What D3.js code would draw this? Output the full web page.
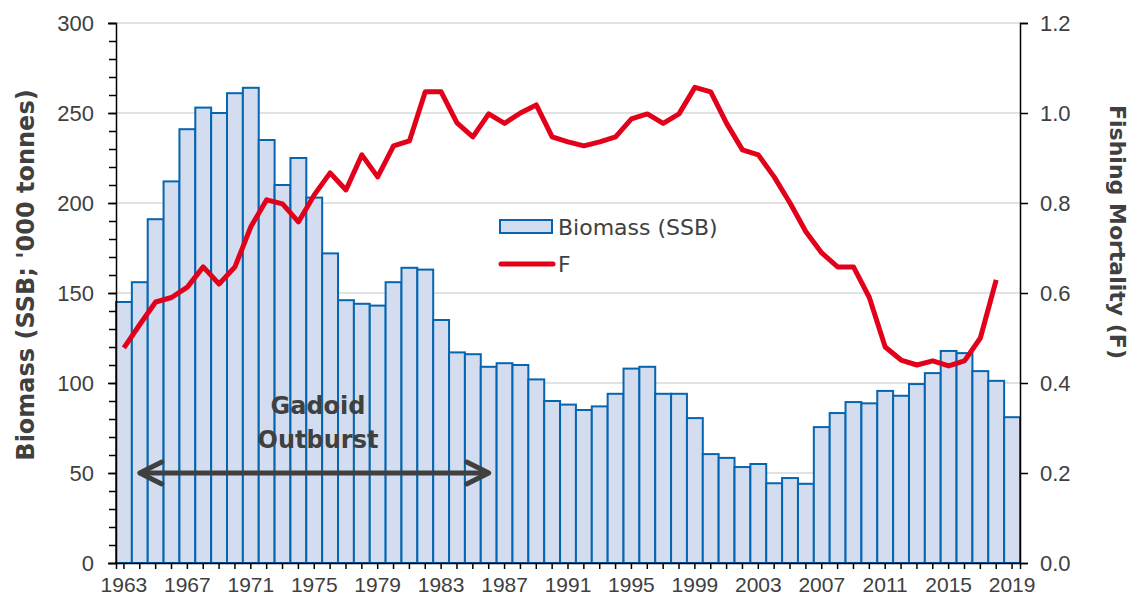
<!DOCTYPE html>
<html>
<head>
<meta charset="utf-8">
<script src="https://cdn.jsdelivr.net/npm/d3@7"></script>
<style>
  body { margin: 0; background: #fff; }
  svg { display: block; font-family: "DejaVu Sans", sans-serif; }
  .axis text { fill: #404040; font-size: 22px; }
  .axis.x text { font-size: 21px; }
  .axis path, .axis line { stroke: #000; stroke-width: 1.5; }
  .grid line { stroke: #d9d9d9; stroke-width: 1.5; }
  .title { fill: #404040; font-weight: bold; font-size: 20px; }
</style>
</head>
<body>
<script>
'use strict';

var width = 1135;
var height = 600;

// years shown on the category axis
var years = d3.range(1963, 2020);
var yearLabels = d3.range(1963, 2020, 4);

// spawning stock biomass, '000 tonnes
var biomass = [145, 156, 191, 212, 241, 253, 250, 261, 264, 235,
  210, 225, 203, 172, 146, 144, 143, 156, 164, 163,
  135, 117, 116, 109, 111, 110, 102, 90, 88, 85,
  87, 94, 108, 109, 94, 94, 80.5, 60.5, 58.4, 53.3,
  55, 44.3, 47.2, 44, 75.5, 83.3, 89.4, 88.7, 95.6, 92.9,
  99.4, 105.5, 117.8, 116.6, 106.6, 101.2, 81];

// fishing mortality, 1963-2018
var fishing = [0.478, 0.53, 0.58, 0.59, 0.613, 0.658, 0.62, 0.658, 0.747, 0.807,
  0.798, 0.758, 0.818, 0.867, 0.829, 0.907, 0.858, 0.927, 0.938, 1.047,
  1.047, 0.978, 0.947, 0.998, 0.977, 1.0, 1.018, 0.947, 0.936, 0.927,
  0.936, 0.947, 0.987, 0.998, 0.977, 0.998, 1.057, 1.047, 0.977, 0.918,
  0.907, 0.858, 0.8, 0.736, 0.689, 0.658, 0.658, 0.59, 0.48, 0.451,
  0.44, 0.449, 0.438, 0.449, 0.5, 0.629];

var leftTicks = [0, 50, 100, 150, 200, 250, 300];
var rightTicks = [0, 0.2, 0.4, 0.6, 0.8, 1.0, 1.2];

var svg = d3.select('body').append('svg').attr('width', width).attr('height', height);

var x = d3.scaleBand().domain(years).range([116, 1020]).padding(0);
var yL = d3.scaleLinear().domain([0, 300]).range([563, 23]);
var yR = d3.scaleLinear().domain([0, 1.2]).range([563, 23]);

// gridlines
svg.append('g').attr('class', 'grid').selectAll('line').data(leftTicks.slice(1)).enter().append('line')
  .attr('x1', 116).attr('x2', 1020)
  .attr('y1', function (d) { return yL(d); }).attr('y2', function (d) { return yL(d); });

// bars
svg.append('g').selectAll('rect').data(biomass).enter().append('rect')
  .attr('x', function (d, i) { return x(years[i]); })
  .attr('width', x.bandwidth())
  .attr('y', function (d) { return yL(d); })
  .attr('height', function (d) { return yL(0) - yL(d); })
  .attr('fill', '#d3ddef')
  .attr('stroke', '#0565b0')
  .attr('stroke-width', 2);

// F line
var line = d3.line()
  .x(function (d, i) { return x(years[i]) + x.bandwidth() / 2; })
  .y(function (d) { return yR(d); });

svg.append('path').datum(fishing)
  .attr('d', line)
  .attr('fill', 'none')
  .attr('stroke', '#e2001a')
  .attr('stroke-width', 5)
  .attr('stroke-linejoin', 'round');

// axes
svg.append('g').attr('class', 'axis').attr('transform', 'translate(116,0)')
  .call(d3.axisLeft(yL).tickValues(d3.range(0, 301, 10)).tickSize(7).tickFormat(''))
  .call(function (g) { g.select('.domain').remove(); });

svg.append('g').attr('class', 'axis').attr('transform', 'translate(116,0)')
  .call(d3.axisLeft(yL).tickValues(leftTicks).tickSize(8).tickPadding(14));

svg.append('g').attr('class', 'axis').attr('transform', 'translate(1020,0)')
  .call(d3.axisRight(yR).tickValues(rightTicks).tickSize(8).tickPadding(12).tickFormat(d3.format('.1f')));

svg.append('g').attr('class', 'axis x').attr('transform', 'translate(0,563)')
  .call(d3.axisBottom(x).tickValues(years).tickSize(6).tickPadding(8)
    .tickFormat(function (d) { return yearLabels.indexOf(d) >= 0 ? d : ''; }));

svg.selectAll('.axis .domain').attr('stroke-width', 2);

// axis titles
svg.append('text').attr('class', 'title')
  .attr('transform', 'translate(34,275) rotate(-90)')
  .attr('text-anchor', 'middle')
  .style('font-size', '24px')
  .text("Biomass (SSB; '000 tonnes)");

svg.append('text').attr('class', 'title')
  .attr('transform', 'translate(1110,232) rotate(90)')
  .attr('text-anchor', 'middle')
  .style('font-size', '22px')
  .text('Fishing Mortality (F)');

// legend
var legend = svg.append('g').attr('transform', 'translate(500,220)');
legend.append('rect').attr('width', 52).attr('height', 13)
  .attr('fill', '#d3ddef').attr('stroke', '#0565b0').attr('stroke-width', 2);
legend.append('text').attr('x', 58).attr('y', 15).attr('fill', '#404040')
  .style('font-size', '22px').text('Biomass (SSB)');
legend.append('line').attr('x1', 1).attr('x2', 53).attr('y1', 44).attr('y2', 44)
  .attr('stroke', '#e2001a').attr('stroke-width', 5).attr('stroke-linecap', 'round');
legend.append('text').attr('x', 58).attr('y', 52).attr('fill', '#404040')
  .style('font-size', '22px').text('F');

// annotation
var ann = svg.append('g');
ann.append('text').attr('x', 318).attr('y', 414).attr('text-anchor', 'middle')
  .attr('class', 'title').style('font-size', '24px').text('Gadoid');
ann.append('text').attr('x', 318).attr('y', 448).attr('text-anchor', 'middle')
  .attr('class', 'title').style('font-size', '24px').text('Outburst');

var ax1 = x(1964) + x.bandwidth() / 2;
var ax2 = x(1986) + x.bandwidth() / 2;
var ay = 473;
ann.append('line').attr('x1', ax1).attr('x2', ax2).attr('y1', ay).attr('y2', ay)
  .attr('stroke', '#404040').attr('stroke-width', 5);
ann.append('path')
  .attr('d', 'M' + (ax1 + 22) + ',' + (ay - 11) + 'L' + ax1 + ',' + ay + 'L' + (ax1 + 22) + ',' + (ay + 11))
  .attr('fill', 'none').attr('stroke', '#404040').attr('stroke-width', 5)
  .attr('stroke-linecap', 'round').attr('stroke-linejoin', 'round');
ann.append('path')
  .attr('d', 'M' + (ax2 - 22) + ',' + (ay - 11) + 'L' + ax2 + ',' + ay + 'L' + (ax2 - 22) + ',' + (ay + 11))
  .attr('fill', 'none').attr('stroke', '#404040').attr('stroke-width', 5)
  .attr('stroke-linecap', 'round').attr('stroke-linejoin', 'round');
</script>
</body>
</html>
